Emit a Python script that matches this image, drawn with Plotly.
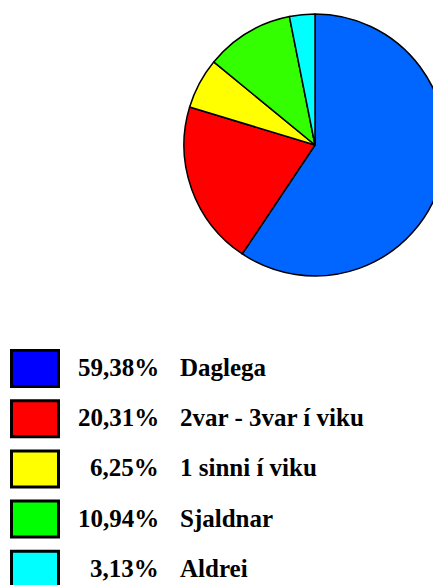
import plotly.graph_objects as go

labels = ["Daglega", "2var - 3var í viku", "1 sinni í viku", "Sjaldnar", "Aldrei"]
values = [59.38, 20.31, 6.25, 10.94, 3.13]
pct_text = ["59,38%", "20,31%", "6,25%", "10,94%", "3,13%"]
pie_colors = ["#0066ff", "#ff0000", "#ffff00", "#33ff00", "#00ffff"]
legend_colors = ["#0000ff", "#ff0000", "#ffff00", "#00ff00", "#00ffff"]

W, H = 460, 585
cx, cy, r = 315, 145, 131

fig = go.Figure()
fig.add_trace(go.Pie(
    labels=labels, values=values, sort=False, direction="clockwise", rotation=0,
    marker=dict(colors=pie_colors, line=dict(color="black", width=1.5)),
    textinfo="none", hoverinfo="label+percent", showlegend=False,
    domain=dict(x=[(cx - r) / W, (cx + r) / W], y=[(H - cy - r) / H, (H - cy + r) / H]),
))

font = dict(family="Liberation Serif", size=25, color="black", weight="bold")
row0, step = 368.5, 50.2
for i, (lab, pt, col) in enumerate(zip(labels, pct_text, legend_colors)):
    yc = row0 + i * step
    fig.add_shape(type="rect", xref="x", yref="y", x0=11.5, x1=58.5, y0=yc - 18, y1=yc + 18,
                  fillcolor=col, line=dict(color="black", width=3))
    fig.add_annotation(x=160.5, y=yc - 1, xref="x", yref="y", text=pt, showarrow=False,
                       xanchor="right", yanchor="middle", font=font)
    fig.add_annotation(x=178, y=yc - 1, xref="x", yref="y", text=lab, showarrow=False,
                       xanchor="left", yanchor="middle", font=font)

fig.update_layout(
    width=W, height=H, autosize=False,
    margin=dict(l=0, r=0, t=0, b=0),
    paper_bgcolor="white", plot_bgcolor="white",
    xaxis=dict(range=[0, W], visible=False, fixedrange=True),
    yaxis=dict(range=[H, 0], visible=False, fixedrange=True),
)

fig.write_html("out.html", config={"displayModeBar": False},
               post_script="document.body.style.margin='0';document.body.style.overflow='hidden';")
